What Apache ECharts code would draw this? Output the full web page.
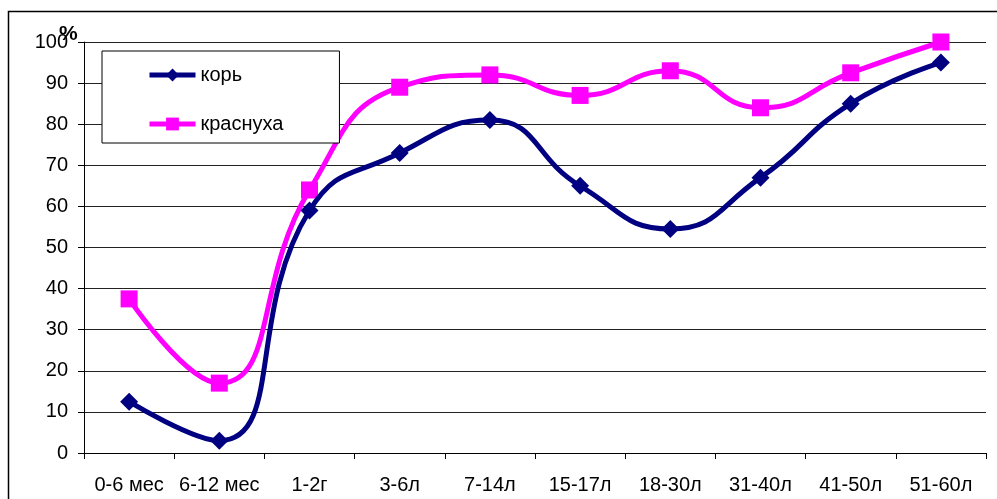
<!DOCTYPE html>
<html><head><meta charset="utf-8">
<script src="https://cdn.jsdelivr.net/npm/echarts@6/dist/echarts.min.js"></script>
<style>html,body{margin:0;padding:0;background:#fff}#c{width:997px;height:499px}</style>
</head><body><div id="c"></div>
<script>
var categories = ['0-6 мес','6-12 мес','1-2г','3-6л','7-14л','15-17л','18-30л','31-40л','41-50л','51-60л'];
var measles = [12.5, 3, 59, 73, 81, 65, 54.5, 67, 85, 95];
var rubella = [37.5, 17, 64, 89, 92, 87, 93, 84, 92.5, 100];
var yTicks = [0,10,20,30,40,50,60,70,80,90,100];

var chart = echarts.init(document.getElementById('c'));
var font = 'Liberation Sans, Arial, sans-serif';
chart.setOption({
  animation: false,
  backgroundColor: '#fff',
  graphic: [
    {type:'rect', shape:{x:8.5,y:11.5,width:1000,height:500}, style:{fill:null, stroke:'#000', lineWidth:1.5}, z:0},
    {type:'text', left:59, top:24, style:{text:'%', font:'bold 21px '+font, fill:'#000'}, z:10}
  ],
  grid: {left:84, top:42, right:11, bottom:46},
  legend: {
    orient:'vertical', left:102, top:51,
    backgroundColor:'#fff', borderColor:'#000', borderWidth:1,
    padding:[14,56,9,45], itemGap:29, itemWidth:46, itemHeight:16,
    lineStyle:{width:5},
    textStyle:{fontFamily:font, fontSize:20, color:'#000'},
    data:[{name:'корь'},{name:'краснуха'}]
  },
  xAxis: {
    type:'category', data:categories, boundaryGap:true,
    axisLine:{lineStyle:{color:'#000', width:1}},
    axisTick:{show:true, length:6, lineStyle:{color:'#000'}},
    axisLabel:{fontFamily:font, fontSize:20, color:'#000', margin:22, interval:0}
  },
  yAxis: {
    type:'value', min:0, max:100, interval:10,
    axisLine:{show:true, lineStyle:{color:'#000', width:1}},
    axisTick:{show:true, length:6, lineStyle:{color:'#000'}},
    axisLabel:{fontFamily:font, fontSize:20, color:'#000', margin:16},
    splitLine:{lineStyle:{color:'#222', width:1}}
  },
  series: [
    {name:'корь', type:'line', data:measles, smooth:0.5, symbol:'diamond', symbolSize:18,
     lineStyle:{color:'#000080', width:5}, itemStyle:{color:'#000080'}, z:3},
    {name:'краснуха', type:'line', data:rubella, smooth:0.5, symbol:'rect', symbolSize:17,
     lineStyle:{color:'#ff00ff', width:5}, itemStyle:{color:'#ff00ff'}, z:2}
  ]
});
</script></body></html>
